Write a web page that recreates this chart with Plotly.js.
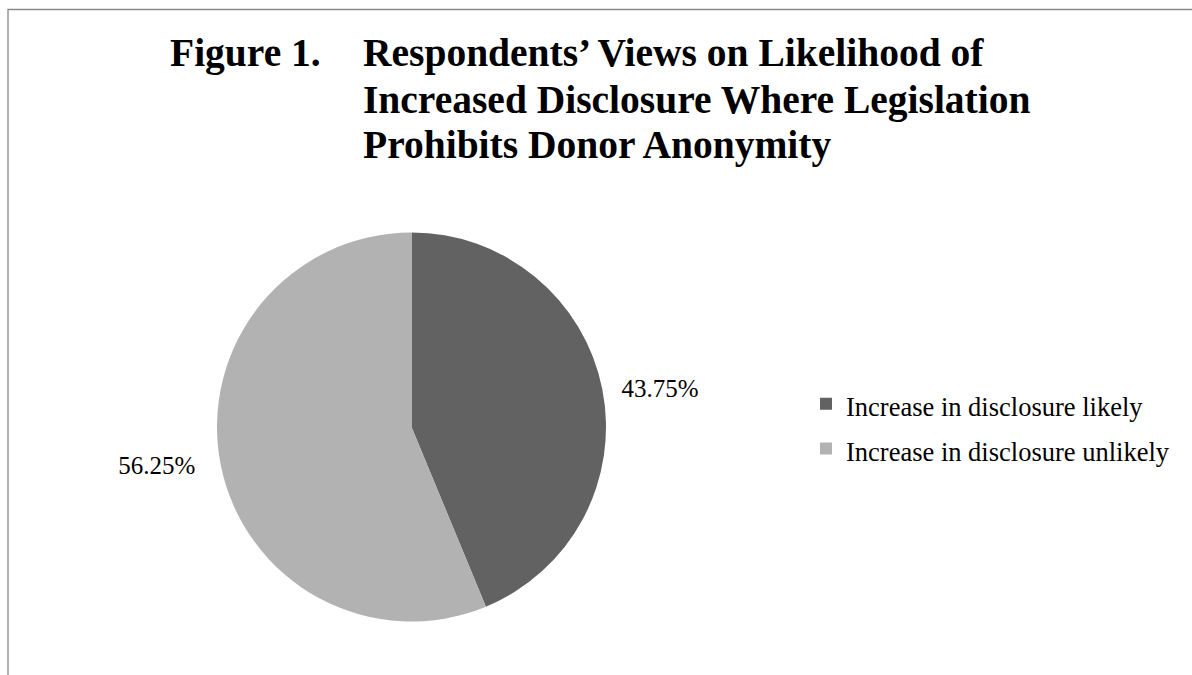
<!DOCTYPE html>
<html>
<head>
<meta charset="utf-8">
<script src="https://cdn.plot.ly/plotly-3.0.1.min.js"></script>
<style>
  html, body { margin: 0; padding: 0; background: #ffffff; }
  #chart { width: 1192px; height: 675px; }
</style>
</head>
<body>
<div id="chart"></div>
<script>
// ---- Data ----
var categories = ["Increase in disclosure likely", "Increase in disclosure unlikely"];
var sliceValues = [43.75, 56.25];
var sliceColors = ["#626262", "#b2b2b2"];
var titleFigure = "Figure 1.";
var titleLines = [
  "Respondents\u2019 Views on Likelihood of",
  "Increased Disclosure Where Legislation",
  "Prohibits Donor Anonymity"
];

// ---- Layout helpers (pixel -> paper) ----
var W = 1192, H = 675;
function px(x) { return x / W; }
function py(y) { return 1 - y / H; }

var serif = "Liberation Serif, Times New Roman, serif";

var trace = {
  type: "pie",
  labels: categories.map(function (c) { return '<span style="font-size:26.5px">' + c + '</span>'; }),
  values: sliceValues,
  marker: { colors: sliceColors, line: { width: 0 } },
  sort: false,
  direction: "clockwise",
  rotation: 0,
  textposition: "outside",
  texttemplate: ["  %{percent:.2%}", "%{percent:.2%}   "],
  textfont: { family: serif, size: 25, color: "#000000" },
  hoverinfo: "skip",
  domain: { x: [px(217), px(606)], y: [py(621.5), py(232.5)] }
};

var annotations = [];
annotations.push({
  text: "<b>" + titleFigure + "</b>",
  xref: "paper", yref: "paper", x: px(168), y: py(53.5),
  xanchor: "left", yanchor: "middle", showarrow: false,
  font: { family: serif, size: 39.5, color: "#000000" }
});
var lineCentres = [53.5, 99.5, 144.5];
titleLines.forEach(function (t, i) {
  annotations.push({
    text: "<b>" + t + "</b>",
    xref: "paper", yref: "paper", x: px(361), y: py(lineCentres[i]),
    xanchor: "left", yanchor: "middle", showarrow: false,
    font: { family: serif, size: 39.5, color: "#000000" }
  });
});

var layout = {
  width: W, height: H,
  margin: { l: 0, r: 0, t: 0, b: 0 },
  paper_bgcolor: "#ffffff",
  plot_bgcolor: "#ffffff",
  showlegend: true,
  legend: {
    x: px(806), xanchor: "left",
    y: py(426.5), yanchor: "middle",
    font: { family: serif, size: 32, color: "#000000" },
    bgcolor: "rgba(0,0,0,0)",
    borderwidth: 0
  },
  annotations: annotations,
  shapes: [{
    type: "rect", xref: "paper", yref: "paper",
    x0: px(8), x1: 1.1, y0: -0.1, y1: py(9.5),
    line: { color: "#8a8a8a", width: 1.3 },
    fillcolor: "rgba(0,0,0,0)"
  }]
};

Plotly.newPlot("chart", [trace], layout, { staticPlot: true, displayModeBar: false });
</script>
</body>
</html>
